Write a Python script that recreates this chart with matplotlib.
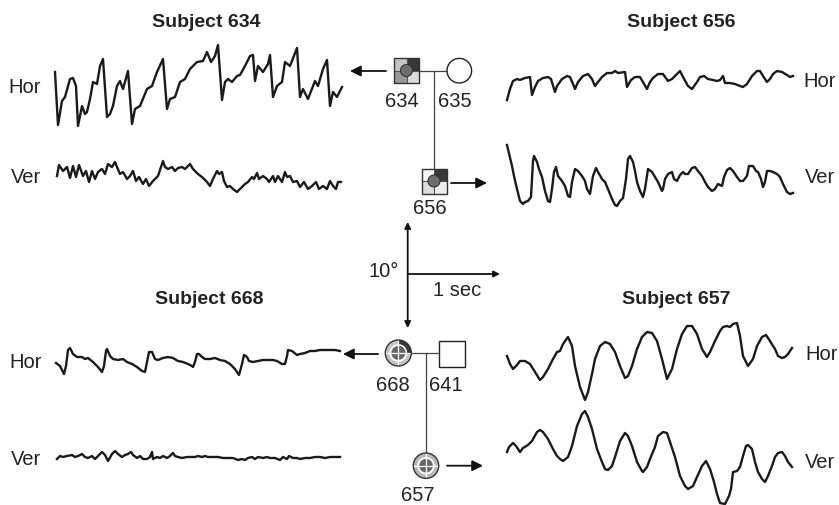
import matplotlib.pyplot as plt
from matplotlib.patches import Rectangle, Circle, Wedge

plt.rcParams['font.family'] = ['Liberation Sans', 'DejaVu Sans']

# eye movement traces, (x, y) in picture pixels
hor_634 = [(55, 73), (58, 126), (62, 102), (65, 98), (70, 80), (73, 79), (76, 87), (78, 127), (82, 107),
           (85, 115), (87, 113), (90, 100), (93, 83), (97, 85), (100, 67), (103, 60), (107, 118), (110, 115),
           (113, 107), (117, 87), (120, 82), (123, 90), (128, 72), (132, 125), (135, 110), (140, 107),
           (147, 90), (152, 87), (157, 73), (163, 60), (167, 110), (170, 100), (175, 98), (180, 83), (185, 80),
           (190, 70), (197, 63), (203, 62), (207, 53), (211, 63), (215, 57), (218, 46), (222, 101), (225, 83),
           (228, 80), (232, 83), (237, 77), (240, 76), (245, 67), (250, 57), (253, 56), (255, 82), (258, 67),
           (263, 73), (268, 65), (270, 56), (273, 98), (277, 87), (282, 83), (285, 63), (290, 67), (297, 49),
           (300, 98), (303, 90), (308, 100), (315, 82), (318, 87), (323, 70), (327, 61), (330, 107), (333, 93),
           (337, 98), (342, 88)]
ver_634 = [(57, 177), (59, 166), (63, 172), (67, 168), (70, 179), (73, 167), (76, 178), (79, 166), (83, 177),
           (86, 172), (89, 183), (92, 172), (95, 180), (98, 173), (102, 170), (105, 175), (108, 165), (112, 168),
           (115, 163), (117, 168), (120, 175), (123, 173), (127, 180), (130, 177), (133, 172), (136, 182),
           (139, 178), (143, 185), (146, 180), (149, 187), (153, 182), (158, 177), (163, 162), (165, 168),
           (168, 170), (172, 168), (175, 172), (178, 169), (182, 168), (185, 170), (190, 165), (193, 170),
           (198, 175), (202, 178), (207, 183), (210, 187), (213, 180), (217, 172), (219, 175), (222, 173),
           (224, 182), (227, 188), (230, 187), (233, 190), (237, 193), (242, 188), (245, 185), (248, 183),
           (252, 178), (254, 180), (257, 174), (259, 180), (263, 177), (267, 180), (269, 183), (273, 177),
           (275, 183), (278, 177), (282, 183), (285, 173), (287, 178), (290, 177), (293, 183), (297, 182),
           (300, 188), (304, 183), (308, 190), (312, 187), (316, 183), (319, 190), (323, 187), (327, 190),
           (330, 182), (333, 187), (336, 190), (338, 183), (341, 183)]
hor_656 = [(507, 101), (510, 90), (513, 82), (517, 80), (520, 81), (525, 79), (530, 78), (532, 96), (535, 88),
           (538, 82), (543, 79), (548, 78), (551, 80), (555, 93), (557, 87), (562, 80), (567, 77), (570, 78),
           (573, 85), (575, 90), (578, 83), (583, 77), (588, 75), (592, 80), (595, 87), (598, 83), (602, 78),
           (607, 74), (612, 74), (615, 72), (618, 74), (625, 73), (627, 88), (631, 81), (635, 78), (640, 78),
           (647, 90), (650, 83), (653, 79), (658, 75), (663, 75), (668, 82), (672, 80), (677, 75), (680, 72),
           (683, 78), (688, 87), (692, 90), (697, 83), (700, 78), (704, 77), (708, 80), (713, 81), (717, 82),
           (720, 81), (723, 77), (725, 84), (730, 84), (735, 85), (740, 87), (743, 88), (747, 85), (752, 77),
           (757, 72), (760, 72), (763, 77), (767, 83), (770, 80), (773, 75), (777, 72), (782, 73), (787, 76),
           (790, 78), (793, 77)]
ver_656 = [(507, 146), (512, 167), (514, 177), (517, 190), (520, 202), (523, 205), (525, 203), (528, 202),
           (531, 198), (533, 162), (534, 157), (537, 163), (539, 170), (542, 178), (545, 192), (548, 202),
           (550, 203), (552, 190), (554, 173), (556, 168), (558, 177), (562, 182), (565, 187), (568, 197),
           (570, 198), (572, 183), (575, 170), (578, 172), (582, 177), (585, 182), (587, 190), (590, 195),
           (593, 177), (596, 169), (598, 173), (602, 180), (605, 183), (608, 190), (612, 200), (615, 206),
           (617, 207), (620, 202), (623, 199), (626, 180), (628, 160), (630, 157), (633, 163), (635, 172),
           (637, 183), (640, 192), (643, 198), (645, 190), (648, 170), (652, 173), (655, 178), (658, 183),
           (662, 192), (663, 190), (665, 180), (668, 175), (672, 173), (674, 180), (677, 182), (680, 176),
           (683, 173), (685, 175), (688, 175), (692, 169), (695, 168), (698, 172), (702, 177), (705, 183),
           (708, 188), (712, 192), (715, 190), (718, 185), (722, 187), (724, 178), (727, 171), (730, 169),
           (733, 172), (737, 178), (740, 182), (743, 182), (747, 177), (749, 167), (753, 167), (756, 172),
           (758, 173), (761, 180), (763, 188), (765, 183), (767, 172), (770, 172), (773, 173), (777, 175),
           (780, 178), (783, 185), (787, 193), (790, 195), (793, 194)]
hor_668 = [(56, 364), (60, 367), (64, 375), (66, 367), (68, 351), (70, 349), (73, 355), (77, 358), (82, 358),
           (85, 360), (88, 359), (93, 363), (98, 368), (102, 373), (104, 367), (106, 352), (107, 350),
           (110, 357), (113, 360), (118, 361), (123, 360), (127, 363), (132, 365), (137, 368), (142, 372),
           (145, 373), (147, 363), (149, 353), (152, 353), (155, 360), (158, 361), (163, 359), (168, 358),
           (173, 359), (178, 362), (183, 363), (188, 365), (192, 367), (193, 368), (195, 363), (197, 355),
           (199, 355), (202, 358), (205, 360), (210, 360), (215, 359), (220, 361), (225, 362), (230, 365),
           (235, 370), (239, 376), (242, 365), (244, 356), (247, 358), (249, 362), (253, 363), (258, 362),
           (263, 361), (268, 361), (273, 361), (277, 362), (282, 365), (285, 365), (287, 357), (288, 351),
           (292, 352), (297, 356), (300, 355), (305, 354), (310, 352), (315, 352), (320, 351), (325, 351),
           (330, 351), (335, 351), (340, 352)]
ver_668 = [(57, 460), (60, 457), (63, 458), (67, 457), (72, 456), (75, 458), (78, 457), (82, 455), (85, 458),
           (88, 459), (92, 457), (95, 460), (98, 457), (102, 453), (105, 456), (108, 462), (112, 455),
           (115, 452), (118, 455), (122, 458), (125, 456), (128, 455), (131, 453), (133, 456), (137, 459),
           (140, 457), (143, 460), (147, 460), (150, 458), (152, 453), (153, 460), (157, 458), (160, 459),
           (163, 457), (167, 459), (170, 457), (173, 454), (175, 457), (178, 458), (182, 459), (187, 458),
           (192, 458), (195, 458), (198, 457), (202, 458), (205, 457), (208, 458), (213, 458), (218, 458),
           (223, 459), (228, 459), (233, 459), (238, 461), (242, 460), (245, 461), (248, 459), (252, 458),
           (255, 460), (258, 458), (263, 459), (267, 458), (270, 459), (275, 459), (280, 461), (283, 458),
           (287, 460), (289, 457), (293, 459), (297, 459), (300, 460), (305, 459), (310, 459), (315, 458),
           (320, 458), (325, 459), (330, 458), (335, 458), (340, 458)]
hor_657 = [(507, 357), (510, 365), (513, 370), (517, 366), (520, 362), (525, 362), (530, 365), (535, 373),
           (540, 381), (543, 378), (548, 370), (553, 360), (557, 353), (560, 352), (563, 345), (568, 338),
           (572, 347), (575, 367), (580, 388), (585, 401), (588, 393), (592, 375), (595, 360), (600, 347),
           (605, 343), (610, 345), (615, 353), (620, 367), (625, 379), (628, 377), (632, 367), (637, 350),
           (642, 338), (647, 333), (652, 334), (657, 342), (662, 360), (667, 380), (672, 370), (677, 350),
           (682, 335), (687, 327), (692, 327), (697, 335), (702, 350), (707, 358), (710, 353), (715, 342),
           (720, 332), (723, 328), (727, 327), (730, 328), (733, 325), (737, 324), (740, 337), (743, 357),
           (748, 367), (753, 360), (757, 347), (762, 338), (766, 336), (770, 342), (773, 347), (775, 350),
           (778, 357), (782, 359), (785, 358), (788, 355), (792, 349)]
ver_657 = [(507, 453), (509, 448), (513, 444), (516, 447), (520, 453), (523, 449), (528, 446), (532, 442),
           (537, 433), (540, 431), (543, 433), (548, 440), (553, 450), (557, 457), (560, 460), (563, 462),
           (568, 458), (572, 447), (577, 427), (582, 415), (585, 412), (588, 418), (592, 430), (597, 450),
           (602, 463), (605, 470), (608, 471), (612, 467), (615, 458), (620, 442), (625, 434), (628, 437),
           (632, 447), (637, 463), (642, 472), (643, 473), (647, 468), (650, 460), (655, 448), (658, 437),
           (663, 433), (667, 434), (670, 443), (675, 458), (680, 477), (685, 487), (688, 490), (693, 487),
           (697, 478), (702, 467), (706, 462), (710, 470), (714, 483), (717, 495), (720, 504), (725, 505),
           (729, 497), (731, 490), (733, 473), (737, 472), (740, 468), (743, 457), (746, 447), (748, 446),
           (752, 450), (755, 463), (758, 473), (762, 480), (765, 483), (768, 477), (772, 467), (775, 458),
           (778, 454), (782, 453), (785, 457), (788, 463), (792, 468)]

traces = [hor_634, ver_634, hor_656, ver_656, hor_668, ver_668, hor_657, ver_657]

titles = ["Subject 634", "Subject 656", "Subject 668", "Subject 657"]
title_pos = [(206, 22), (681, 22), (209, 300), (676, 300)]

fig = plt.figure(figsize=(8.39, 5.06), dpi=100)
ax = fig.add_axes([0, 0, 1, 1])
ax.set_xlim(0, 839)
ax.set_ylim(506, 0)
ax.set_aspect('equal')
ax.axis('off')

for tr in traces:
    xs = [p[0] for p in tr]
    ys = [p[1] for p in tr]
    ax.plot(xs, ys, color='#1a1a1a', lw=1.7, solid_joinstyle='round')

for t, (x, y) in zip(titles, title_pos):
    ax.text(x, y, t, ha='center', va='center', fontsize=14, fontweight='bold', color='#222222',
            family=['Liberation Sans Narrow', 'Liberation Sans'])

# Hor / Ver labels
for x, y, s in [(8, 87, "Hor"), (11, 177, "Ver"), (803, 81, "Hor"), (805, 177, "Ver"),
                (9, 362, "Hor"), (11, 460, "Ver"), (805, 354, "Hor"), (805, 463, "Ver")]:
    ax.text(x, y, s, ha='left', va='center', fontsize=14.5, color='#222222')

gray_line = '#444444'

# top pedigree
ax.plot([419, 447], [72, 72], color=gray_line, lw=0.9, zorder=1)
ax.plot([434, 434], [72, 170], color=gray_line, lw=0.9, zorder=1)


def quad_square(cx, cy, size, cols):
    h = size / 2
    # top-left, top-right, bottom-left, bottom-right (y axis points down)
    for (dx, dy), c in zip([(-h, -h), (0, -h), (-h, 0), (0, 0)], cols):
        ax.add_patch(Rectangle((cx + dx, cy + dy), h, h, facecolor=c, edgecolor='none', zorder=2))
    ax.plot([cx, cx], [cy - h, cy + h], color='#555555', lw=0.8, zorder=3)
    ax.plot([cx - h, cx + h], [cy, cy], color='#555555', lw=0.8, zorder=3)
    ax.add_patch(Rectangle((cx - h, cy - h), size, size, facecolor='none', edgecolor='#333333', lw=1.0, zorder=4))
    ax.add_patch(Circle((cx, cy), 6, facecolor='#6e6e6e', edgecolor='#333333', lw=0.8, zorder=5))


def quad_circle(cx, cy, r, cols):
    # y axis points down: TL = 180..270, TR = 270..360, BL = 90..180, BR = 0..90
    for (a1, a2), c in zip([(180, 270), (270, 360), (90, 180), (0, 90)], cols):
        ax.add_patch(Wedge((cx, cy), r, a1, a2, facecolor=c, edgecolor='none', zorder=2))
    ax.add_patch(Circle((cx, cy), r * 0.62, facecolor='none', edgecolor='white', lw=1.2, zorder=3))
    ax.add_patch(Circle((cx, cy), r * 0.52, facecolor='#666666', edgecolor='none', zorder=4))
    ax.plot([cx, cx], [cy - r, cy + r], color='white', lw=0.9, zorder=5)
    ax.plot([cx - r, cx + r], [cy, cy], color='white', lw=0.9, zorder=5)
    ax.add_patch(Circle((cx, cy), r, facecolor='none', edgecolor='#333333', lw=1.0, zorder=6))


quad_square(406.5, 71.5, 25, ['#c4c4c4', '#383838', '#999999', '#dcdcdc'])
ax.add_patch(Circle((459.3, 71.7), 12.3, facecolor='white', edgecolor='#222222', lw=1.0, zorder=2))
quad_square(434, 182, 25, ['#f6f6f6', '#383838', '#dddddd', '#eeeeee'])

# bottom pedigree
ax.plot([411, 439], [354, 354], color=gray_line, lw=0.9, zorder=1)
ax.plot([426, 426], [354, 454], color=gray_line, lw=0.9, zorder=1)
quad_circle(398.3, 354, 13, ['#c2c2c2', '#383838', '#c2c2c2', '#c2c2c2'])
ax.add_patch(Rectangle((439, 342), 25.5, 25.5, facecolor='white', edgecolor='#222222', lw=1.0, zorder=2))
quad_circle(426, 466.7, 12.7, ['#b8b8b8', '#b8b8b8', '#b8b8b8', '#b8b8b8'])

# numbers
for x, y, s in [(402, 101.7, "634"), (455, 101.7, "635"), (430, 209, "656"),
                (393.3, 386, "668"), (446, 386, "641"), (417.3, 496, "657")]:
    ax.text(x, y, s, ha='center', va='center', fontsize=14.5, color='#222222')

# arrows toward traces
arrow = dict(arrowstyle='-|>', lw=1.3, color='#111111', mutation_scale=16, shrinkA=0, shrinkB=0)
for (x0, y0), (x1, y1) in [((386, 72), (350, 72)), ((451, 184), (487, 184)),
                           ((378, 355), (343, 355)), ((447, 466.7), (483, 466.7))]:
    ax.annotate('', xy=(x1, y1), xytext=(x0, y0), arrowprops=arrow)

# scale bar: 10 deg and 1 sec
sb = dict(arrowstyle='<|-|>', lw=1.3, color='#111111', mutation_scale=9, shrinkA=0, shrinkB=0)
ax.annotate('', xy=(407.7, 223), xytext=(407.7, 329), arrowprops=sb)
ax.annotate('', xy=(500, 275), xytext=(407.7, 275),
            arrowprops=dict(arrowstyle='-|>', lw=1.3, color='#111111', mutation_scale=9, shrinkA=0, shrinkB=0))
ax.text(399, 271.7, "10°", ha='right', va='center', fontsize=14.5, color='#222222')
ax.text(457, 290, "1 sec", ha='center', va='center', fontsize=14.5, color='#222222')

fig.savefig("out.png", dpi=100)
